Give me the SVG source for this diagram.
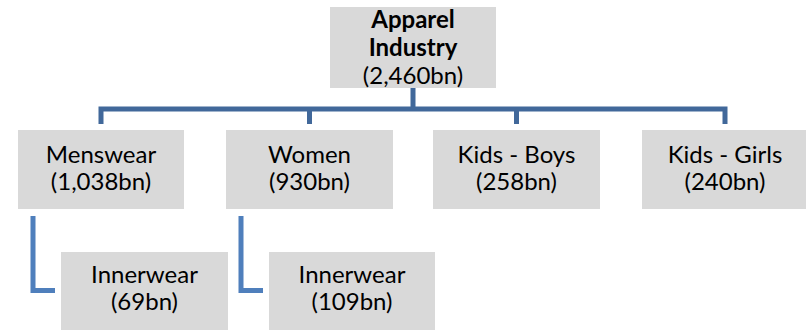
<svg xmlns="http://www.w3.org/2000/svg" width="806" height="331" viewBox="0 0 806 331">
<style>
.box{fill:#D9D9D9}
.t{font-family:Lato,"Open Sans","Liberation Sans",sans-serif;font-size:24px;fill:#000;text-anchor:middle}
.b{font-weight:bold}
.c1{fill:none;stroke:#41689A;stroke-width:5}
.c2{fill:none;stroke:#4F7FBC;stroke-width:5}
</style>
<rect width="806" height="331" fill="#fff"/>
<g id="connectors">
<path class="c1" d="M413 88V109M101 124V109H725V124M309.5 109V124M516.5 109V124"/>
<path class="c2" d="M33 216V290.5H55"/>
<path class="c2" d="M241 216V290.5H263"/>
</g>
<g id="apparel">
<rect class="box" x="330" y="7" width="166" height="81"/>
<text class="t b" x="413" y="28">Apparel</text>
<text class="t b" x="413" y="56">Industry</text>
<text class="t" x="413" y="84">(2,460bn)</text>
</g>
<g id="menswear">
<rect class="box" x="18" y="130" width="166" height="79"/>
<text class="t" x="101" y="163">Menswear</text>
<text class="t" x="101" y="190">(1,038bn)</text>
</g>
<g id="women">
<rect class="box" x="226" y="130" width="167" height="79"/>
<text class="t" x="309.5" y="163">Women</text>
<text class="t" x="309.5" y="190">(930bn)</text>
</g>
<g id="kidsboys">
<rect class="box" x="433" y="130" width="167" height="79"/>
<text class="t" x="516.5" y="163">Kids - Boys</text>
<text class="t" x="516.5" y="190">(258bn)</text>
</g>
<g id="kidsgirls">
<rect class="box" x="642" y="130" width="166" height="79"/>
<text class="t" x="725" y="163">Kids - Girls</text>
<text class="t" x="725" y="190">(240bn)</text>
</g>
<g id="innerwear-men">
<rect class="box" x="61" y="252" width="167" height="78"/>
<text class="t" x="144.5" y="283">Innerwear</text>
<text class="t" x="144.5" y="310">(69bn)</text>
</g>
<g id="innerwear-women">
<rect class="box" x="269" y="252" width="166" height="78"/>
<text class="t" x="352" y="283">Innerwear</text>
<text class="t" x="352" y="310">(109bn)</text>
</g>
</svg>
